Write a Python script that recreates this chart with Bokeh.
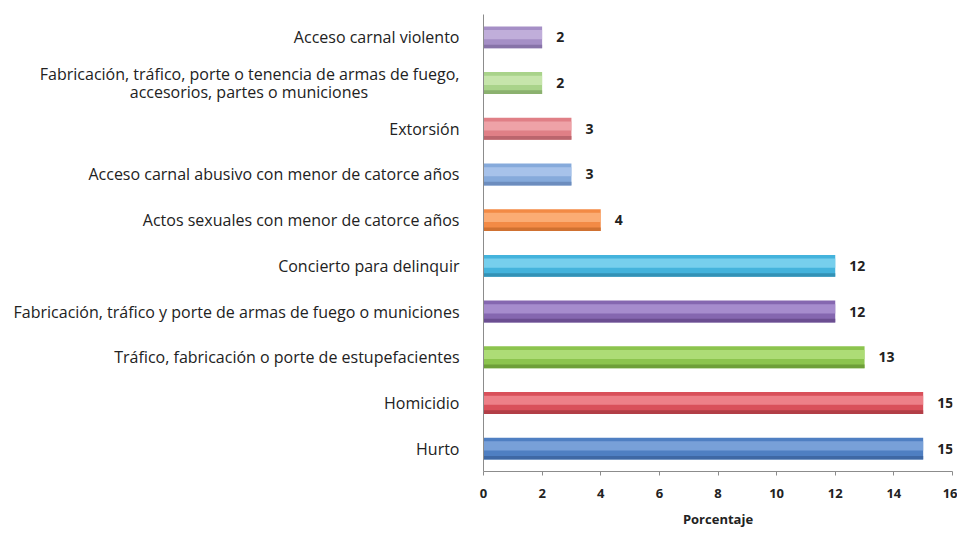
from bokeh.plotting import figure
from bokeh.models import ColumnDataSource, FixedTicker, Range1d
from bokeh.transform import dodge
from bokeh.embed import file_html
from bokeh.resources import INLINE
from bokeh.core.properties import value

categories = [
    "Hurto",
    "Homicidio",
    "Tráfico, fabricación o porte de estupefacientes",
    "Fabricación, tráfico y porte de armas de fuego o municiones",
    "Concierto para delinquir",
    "Actos sexuales con menor de catorce años",
    "Acceso carnal abusivo con menor de catorce años",
    "Extorsión",
    "Fabricación, tráfico, porte o tenencia de armas de fuego,\naccesorios, partes o municiones",
    "Acceso carnal violento",
]
values = [15, 15, 13, 12, 12, 4, 3, 3, 2, 2]
base_colors = ["#4f7fc2", "#d9505a", "#8cc44e", "#8567b0", "#44b3dc",
               "#f38a45", "#86aadb", "#e07f86", "#a9d38a", "#a58fc6"]
light_colors = ["#7fa6dc", "#f08890", "#b3e07e", "#ab93d2", "#7fd3f0",
                "#fcb27c", "#adc7ec", "#f0a8ad", "#cbe8b0", "#c4b4dd"]
dark_colors = ["#3b639c", "#a83a42", "#679634", "#64498a", "#2f8aac",
               "#c76a2c", "#6686b6", "#b25f66", "#83a968", "#7f6ca0"]
x_ticks = [0, 2, 4, 6, 8, 10, 12, 14, 16]
x_label = "Porcentaje"

# display factors: the second line of the wrapped name is padded so that it
# sits centred under the first line (axis labels are right-aligned)
factors = [c + ("\u00a0" * 22 if "\n" in c else "") for c in categories]

src = ColumnDataSource(dict(cat=factors, val=values, base=base_colors,
                            light=light_colors, dark=dark_colors,
                            lbl=[str(v) for v in values]))

p = figure(width=957, height=533, y_range=factors, x_range=Range1d(0, 16),
           output_backend="svg", toolbar_location=None,
           min_border_left=483, min_border_right=5, min_border_top=14,
           min_border_bottom=62)

p.hbar(y="cat", right="val", left=0, height=0.48, source=src,
       fill_color="base", line_color=None)
p.hbar(y=dodge("cat", 0.06, range=p.y_range), right="val", left=0, height=0.2,
       source=src, fill_color="light", line_color=None, fill_alpha=0.85)
p.hbar(y=dodge("cat", -0.2, range=p.y_range), right="val", left=0, height=0.08,
       source=src, fill_color="dark", line_color=None, fill_alpha=0.8)

p.text(x="val", y="cat", text="lbl", source=src, x_offset=14,
       text_align="left", text_baseline="middle",
       text_font=value("Open Sans"), text_font_size="14px",
       text_font_style="bold", text_color="#222222")

p.xgrid.visible = False
p.ygrid.visible = False
p.outline_line_color = None
p.background_fill_color = "white"
p.border_fill_color = "white"

p.xaxis.ticker = FixedTicker(ticks=x_ticks)
p.xaxis.axis_label = x_label
p.xaxis.axis_label_text_font = "Open Sans"
p.xaxis.axis_label_text_font_size = "13px"
p.xaxis.axis_label_text_font_style = "bold"
p.xaxis.axis_label_text_color = "#222222"
p.xaxis.axis_label_standoff = 9
p.xaxis.major_label_text_font = "Open Sans"
p.xaxis.major_label_text_font_size = "13px"
p.xaxis.major_label_text_font_style = "bold"
p.xaxis.major_label_text_color = "#222222"
p.xaxis.major_label_standoff = 13
p.xaxis.axis_line_color = "#8c8c8c"
p.xaxis.major_tick_line_color = "#8c8c8c"
p.xaxis.major_tick_out = 4
p.xaxis.major_tick_in = 0
p.xaxis.minor_tick_line_color = None

p.yaxis.axis_line_color = "#8c8c8c"
p.yaxis.major_tick_line_color = None
p.yaxis.major_tick_out = 0
p.yaxis.major_label_standoff = 24
p.yaxis.major_label_text_font = "Open Sans"
p.yaxis.major_label_text_font_size = "16px"
p.yaxis.major_label_text_line_height = 0.85
p.yaxis.major_label_text_color = "#222222"

open("out.html", "w").write(file_html(p, INLINE))
